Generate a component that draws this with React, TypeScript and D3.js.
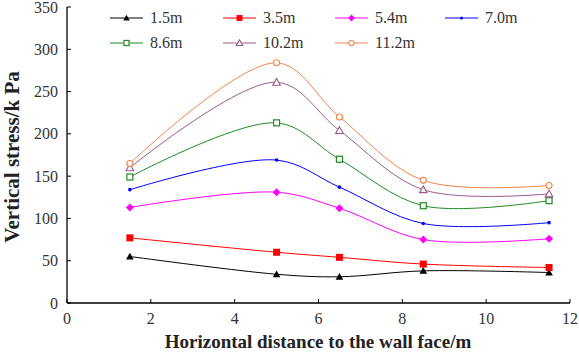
import { useEffect } from "react";
import * as d3 from "d3";

// distances from the wall face (m)
const distances = [1.5, 5, 6.5, 8.5, 11.5];

// one series per burial depth
const depths = ["1.5m", "3.5m", "5.4m", "7.0m", "8.6m", "10.2m", "11.2m"];

const stress15 = [55, 34, 31, 38, 36];
const stress35 = [77, 60, 54, 46, 42];
const stress54 = [113, 131, 112, 75, 76];
const stress70 = [134, 169, 137, 94, 95];
const stress86 = [149, 213, 170, 115, 121];
const stress102 = [160, 261, 204, 134, 129];
const stress112 = [165, 284, 220, 145, 139];

const xTicks = [0, 2, 4, 6, 8, 10, 12];
const yTicks = [0, 50, 100, 150, 200, 250, 300, 350];

type Marker = "triFill" | "sqFill" | "diamond" | "dot" | "sqOpen" | "triOpen" | "circOpen";

const seriesStyle: { color: string; marker: Marker }[] = [
  { color: "#000000", marker: "triFill" },
  { color: "#ff0000", marker: "sqFill" },
  { color: "#ff00ff", marker: "diamond" },
  { color: "#0000ff", marker: "dot" },
  { color: "#1f8a1f", marker: "sqOpen" },
  { color: "#9c5a8a", marker: "triOpen" },
  { color: "#f5834a", marker: "circOpen" },
];

const seriesValues = [stress15, stress35, stress54, stress70, stress86, stress102, stress112];

const W = 579;
const H = 354;
const margin = { left: 67, right: 9, top: 7, bottom: 51 };

function MarkerShape({ kind, color, x, y, s = 1 }: { kind: Marker; color: string; x: number; y: number; s?: number }) {
  const t = `M${x},${y - 3.8 * s}L${x + 3.8 * s},${y + 3 * s}L${x - 3.8 * s},${y + 3 * s}Z`;
  switch (kind) {
    case "triFill":
      return <path d={t} fill={color} />;
    case "sqFill":
      return <rect x={x - 3.5 * s} y={y - 3.5 * s} width={7 * s} height={7 * s} fill={color} />;
    case "diamond":
      return <path d={`M${x},${y - 4 * s}L${x + 4 * s},${y}L${x},${y + 4 * s}L${x - 4 * s},${y}Z`} fill={color} />;
    case "dot":
      return <circle cx={x} cy={y} r={1.8 * s} fill={color} />;
    case "sqOpen":
      return <rect x={x - 3 * s} y={y - 3 * s} width={6 * s} height={6 * s} fill="#fff" stroke={color} strokeWidth={1.2} />;
    case "triOpen":
      return <path d={t} fill="#fff" stroke={color} strokeWidth={1.1} />;
    case "circOpen":
      return <circle cx={x} cy={y} r={3 * s} fill="#fff" stroke={color} strokeWidth={1.1} />;
  }
}

export default function App() {
  useEffect(() => {
    document.body.style.margin = "0";
  }, []);

  const x = d3.scaleLinear().domain([0, 12]).range([margin.left, W - margin.right]);
  const y = d3.scaleLinear().domain([0, 350]).range([H - margin.bottom, margin.top]);

  const line = d3
    .line<number>()
    .x((_, i) => x(distances[i]))
    .y((d) => y(d))
    .curve(d3.curveCatmullRom.alpha(0.5));

  const legendCols = [110, 223, 335, 445];
  const legendRows = [18, 43];

  return (
    <svg width={W} height={H} style={{ display: "block", background: "#fff" }} fontFamily="'Liberation Serif', 'Times New Roman', serif">
      {/* axes */}
      <line x1={x(0)} x2={x(12)} y1={y(0)} y2={y(0)} stroke="#000" strokeWidth={1.3} />
      <line x1={x(0)} x2={x(0)} y1={y(0)} y2={y(350)} stroke="#000" strokeWidth={1.3} />
      {xTicks.map((t) => (
        <g key={"x" + t}>
          <line x1={x(t)} x2={x(t)} y1={y(0)} y2={y(0) - 4} stroke="#000" strokeWidth={1} />
          <text x={x(t)} y={y(0) + 21} textAnchor="middle" fontSize={16} fill="#333">
            {t}
          </text>
        </g>
      ))}
      {yTicks.map((t) => (
        <g key={"y" + t}>
          <line x1={x(0)} x2={x(0) + 4} y1={y(t)} y2={y(t)} stroke="#000" strokeWidth={1} />
          <text x={x(0) - 9} y={y(t) + 5.5} textAnchor="end" fontSize={16} fill="#333">
            {t}
          </text>
        </g>
      ))}

      {/* series */}
      {seriesValues.map((vals, si) => (
        <g key={depths[si]}>
          <path d={line(vals) || ""} fill="none" stroke={seriesStyle[si].color} strokeWidth={1} />
          {vals.map((v, i) => (
            <MarkerShape key={i} kind={seriesStyle[si].marker} color={seriesStyle[si].color} x={x(distances[i])} y={y(v)} />
          ))}
        </g>
      ))}

      {/* legend */}
      {depths.map((name, i) => {
        const lx = legendCols[i % 4];
        const ly = legendRows[Math.floor(i / 4)];
        return (
          <g key={"lg" + name}>
            <line x1={lx} x2={lx + 33} y1={ly} y2={ly} stroke={seriesStyle[i].color} strokeWidth={1} />
            <MarkerShape kind={seriesStyle[i].marker} color={seriesStyle[i].color} x={lx + 16.5} y={ly} s={0.85} />
            <text x={lx + 40} y={ly + 5} fontSize={16} fill="#333">
              {name}
            </text>
          </g>
        );
      })}

      {/* axis titles */}
      <text x={318} y={348} textAnchor="middle" fontSize={19} fontWeight="bold" fill="#222">
        Horizontal distance to the wall face/m
      </text>
      <text
        transform={`translate(19,${157}) rotate(-90)`}
        textAnchor="middle"
        fontSize={21}
        fontWeight="bold"
        fill="#222"
      >
        Vertical stress/k Pa
      </text>
    </svg>
  );
}
